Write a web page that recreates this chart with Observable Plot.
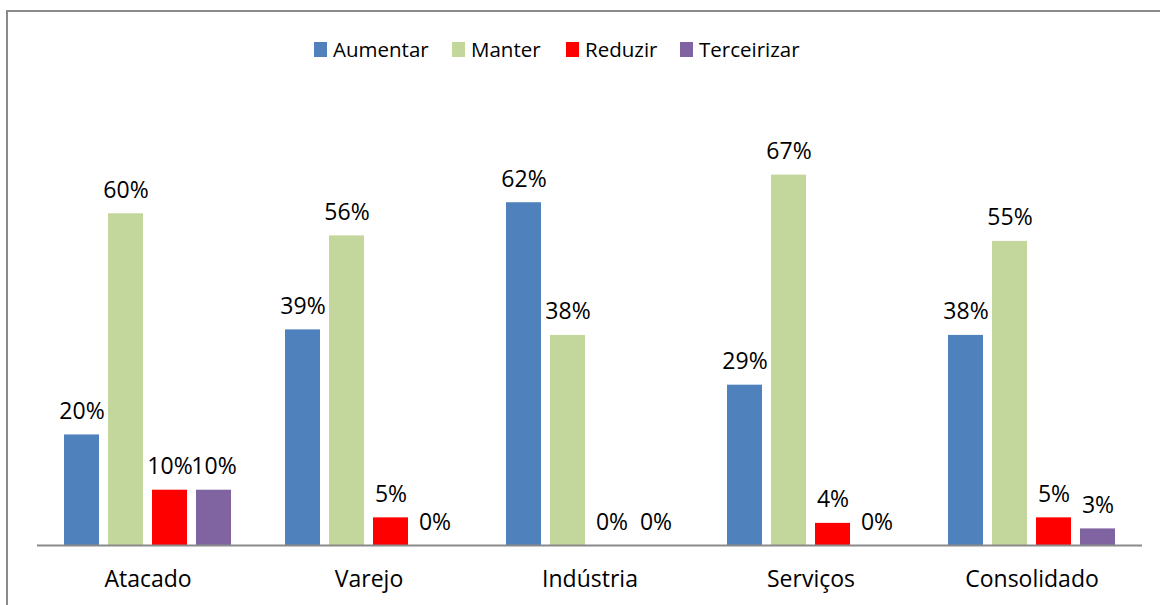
<!DOCTYPE html>
<html>
<head>
<meta charset="utf-8">
<script src="https://cdn.jsdelivr.net/npm/d3@7"></script>
<script src="https://cdn.jsdelivr.net/npm/@observablehq/plot@0.6"></script>
<style>
  html, body { margin: 0; padding: 0; background: #fff; }
  body { width: 1160px; height: 605px; overflow: hidden; position: relative; font-family: "Open Sans", sans-serif; }
  #frame { position: absolute; left: 6px; top: 10px; width: 1200px; height: 700px; border-left: 2px solid #8a8a8a; border-top: 2px solid #8a8a8a; pointer-events: none; }
  #legend { position: relative; height: 80px; }
  .item { position: absolute; top: 35px; display: flex; align-items: center; font-size: 20.5px; color: #000; white-space: nowrap; }
  .sw { width: 13px; height: 15px; margin-right: 6px; }
  #chart { position: absolute; left: 0; top: 80px; }
</style>
</head>
<body>
<div id="frame"></div>
<div id="legend"></div>
<div id="chart"></div>
<script>
const categories = ["Atacado", "Varejo", "Indústria", "Serviços", "Consolidado"];
const series = ["Aumentar", "Manter", "Reduzir", "Terceirizar"];
const colors = ["#4F81BD", "#C3D69B", "#FF0000", "#8064A2"];
const aumentar = [20, 39, 62, 29, 38];
const manter = [60, 56, 38, 67, 55];
const reduzir = [10, 5, 0, 4, 5];
const terceirizar = [10, 0, 0, 0, 3];
const legendX = [314, 452, 566, 680];

const valuesBySeries = [aumentar, manter, reduzir, terceirizar];
const data = [];
categories.forEach((c, i) => {
  series.forEach((s, j) => data.push({cat: c, series: s, value: valuesBySeries[j][i]}));
});

const legend = document.getElementById("legend");
series.forEach((s, j) => {
  const it = document.createElement("div");
  it.className = "item";
  it.style.left = legendX[j] + "px";
  it.innerHTML = `<span class="sw" style="background:${colors[j]}"></span><span>${s}</span>`;
  legend.appendChild(it);
});

const chart = Plot.plot({
  width: 1160,
  height: 525,
  marginLeft: 36,
  marginRight: 18,
  marginTop: 78,
  marginBottom: 60,
  style: {fontFamily: "Open Sans, sans-serif", fontSize: "23px", color: "#000", background: "transparent"},
  fx: {domain: categories, padding: 0, label: null, tickSize: 0, tickPadding: 25},
  x: {domain: series, paddingInner: 0.2, paddingOuter: 0.61, axis: null},
  y: {domain: [0, 70], axis: null},
  color: {domain: series, range: colors},
  marks: [
    Plot.barY(data, {fx: "cat", x: "series", y: "value", fill: "series"}),
    Plot.ruleY([0], {stroke: "#8a8a8a", strokeWidth: 2}),
    Plot.text(data, {fx: "cat", x: "series", y: "value", text: d => d.value + "%", lineAnchor: "bottom", dy: -16, fill: "#000", fontSize: 23})
  ]
});
document.getElementById("chart").appendChild(chart);
</script>
</body>
</html>
